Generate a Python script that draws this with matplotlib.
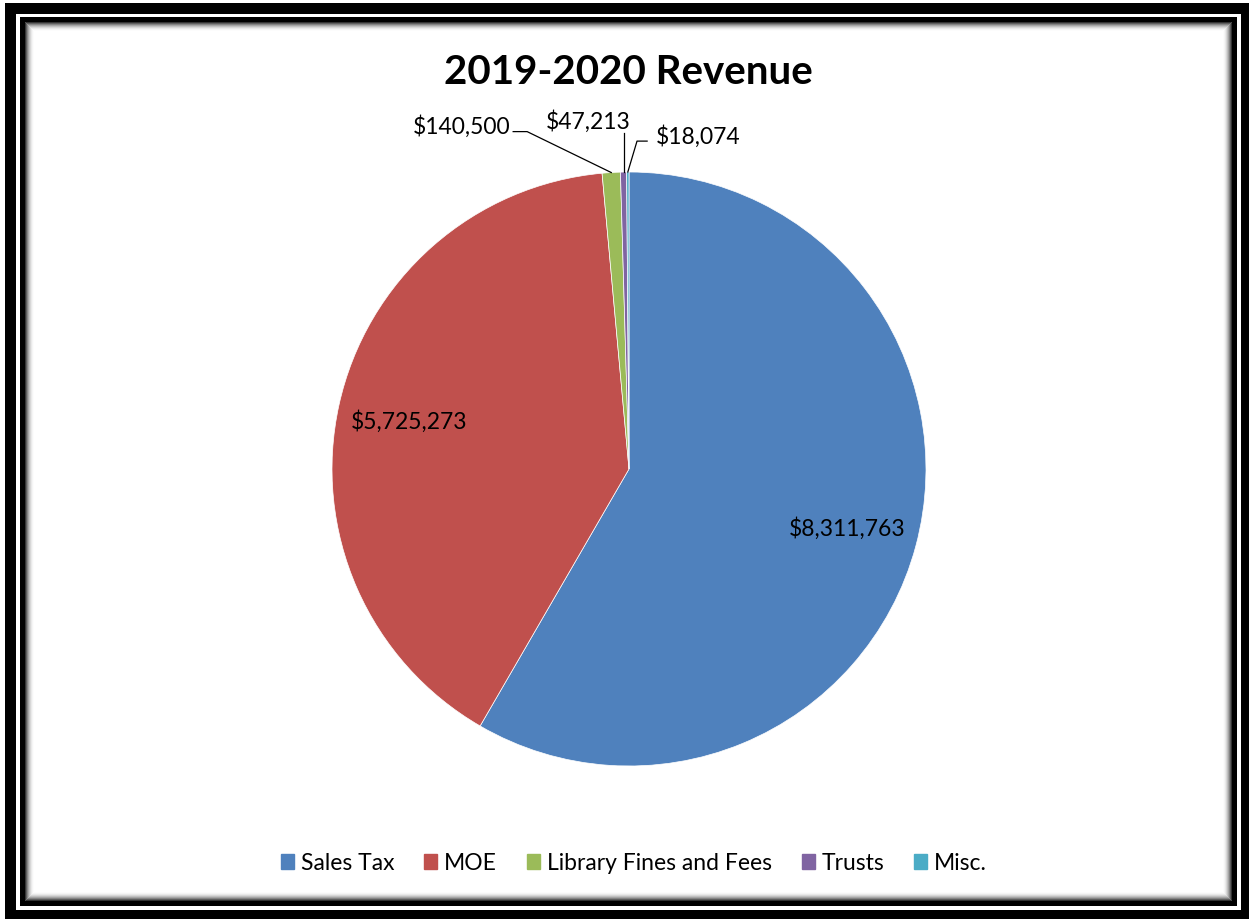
import numpy as np
import matplotlib
matplotlib.use("Agg")
import matplotlib.pyplot as plt
from matplotlib.patches import Rectangle

categories = ["Sales Tax", "MOE", "Library Fines and Fees", "Trusts", "Misc."]
values = [8311763, 5725273, 140500, 47213, 18074]
colors = ["#4F81BD", "#C0504D", "#9BBB59", "#8064A2", "#4BACC6"]
title = "2019-2020 Revenue"

W, H = 1249, 920
PT = 0.72  # points per pixel at dpi 100
fig = plt.figure(figsize=(W / 100, H / 100), dpi=100)
fig.patch.set_facecolor("white")

# frame axes in pixel coordinates
bg = fig.add_axes([0, 0, 1, 1])
bg.set_xlim(0, W)
bg.set_ylim(H, 0)
bg.axis("off")
# outer thick black frame
bg.add_patch(Rectangle((10.5, 8.5), 1246 - 10.5, 915.5 - 8.5, fill=False, lw=11 * PT, ec="black",
                       joinstyle="miter"))
# inner frame with soft shadow
x0, y0, x1, y1 = 22.5, 19.5, 1234.5, 903.5
bg.add_patch(Rectangle((x0, y0), x1 - x0, y1 - y0, fill=False, lw=5 * PT, ec="black",
                       joinstyle="miter"))
n = 9
for i in range(n):
    g = 0.2 + i * 0.09
    off = 3 + i
    bg.add_patch(Rectangle((x0 + off, y0 + off), x1 - x0 - 2 * off, y1 - y0 - 2 * off,
                           fill=False, lw=1 * PT, ec=(g, g, g, 1 - i / n), joinstyle="miter"))

fontfam = ["Lato", "DejaVu Sans"]
bg.text(628, 72, title, ha="center", va="center", fontsize=29, fontweight="bold",
        family=fontfam, color="black")

# pie axes
cx, cy, r = 629, 470, 297
ax = fig.add_axes([(cx - r) / W, (H - cy - r) / H, 2 * r / W, 2 * r / H])
wedges, _ = ax.pie(values, colors=colors, startangle=90, counterclock=False, radius=1,
                   wedgeprops=dict(linewidth=0.5, edgecolor="white"))
ax.set_xlim(-1, 1)
ax.set_ylim(-1, 1)
ax.set_aspect("equal")
ax.axis("off")

def lab(v):
    return "${:,}".format(v)

FS = 16.5
# inside labels for big slices
for w, v in zip(wedges[:2], values[:2]):
    th = np.deg2rad((w.theta1 + w.theta2) / 2)
    d = 0.76
    ax.text(d * np.cos(th), d * np.sin(th), lab(v), ha="center", va="center",
            fontsize=FS, family=fontfam)

# outside labels with leader lines for small slices
outside = [
    ((-0.562, 1.158), "right"),
    ((-0.138, 1.175), "bottom"),
    ((0.232, 1.124), "left"),
]
for (w, v, (pos, side)) in zip(wedges[2:], values[2:], outside):
    th = np.deg2rad((w.theta1 + w.theta2) / 2)
    ax_, ay_ = np.cos(th), np.sin(th)
    ax.text(pos[0], pos[1], lab(v), ha="center", va="center", fontsize=FS, family=fontfam)
    if side == "right":
        sx, sy = pos[0] + 0.172, pos[1] - 0.022
        ex = sx + 0.047
        ax.plot([sx, ex, ax_], [sy, sy, ay_], color="black", lw=0.9, clip_on=False)
    elif side == "bottom":
        ax.plot([ax_, ax_], [pos[1] - 0.045, ay_], color="black", lw=0.9, clip_on=False)
    else:
        sx, sy = pos[0] - 0.171, pos[1] - 0.02
        ex = sx - 0.034
        ax.plot([sx, ex, ax_], [sy, sy, ay_], color="black", lw=0.9, clip_on=False)

# legend
handles = [Rectangle((0, 0), 1, 1, color=c) for c in colors]
fig.legend(handles, categories, loc="center", bbox_to_anchor=(634 / W, 1 - 864 / H), ncol=5,
           frameon=False, handlelength=0.57, handleheight=0.6, handletextpad=0.3,
           columnspacing=1.3, prop=dict(family=fontfam, size=16.5))

fig.savefig("out.png", dpi=100)
